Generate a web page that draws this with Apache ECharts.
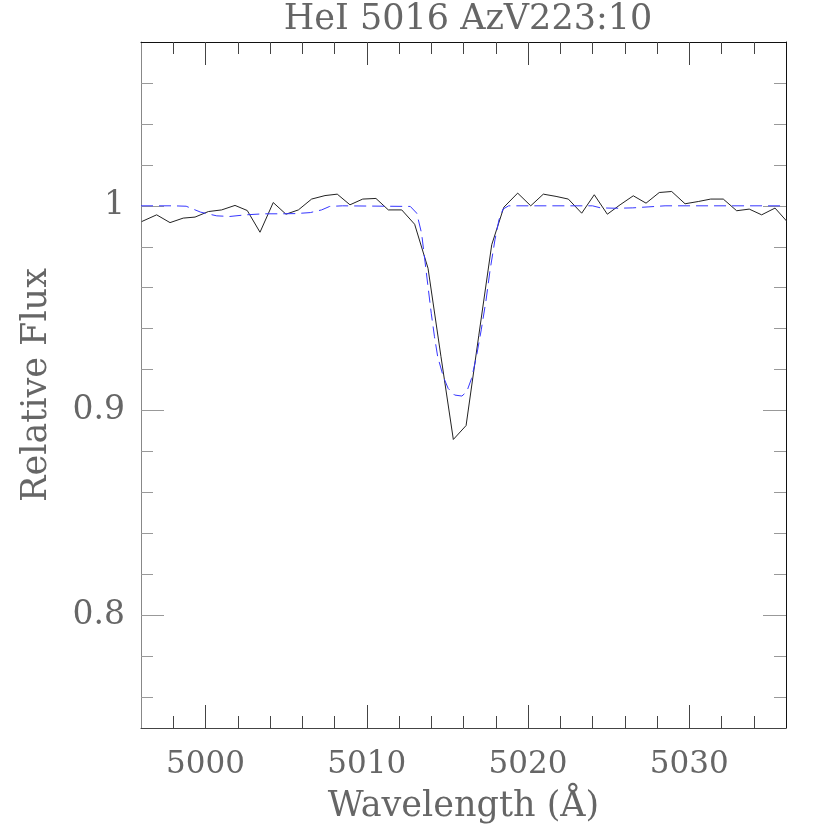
<!DOCTYPE html>
<html>
<head>
<meta charset="utf-8">
<script src="https://cdn.jsdelivr.net/npm/echarts@6/dist/echarts.min.js"></script>
<style>
  html, body { margin: 0; padding: 0; background: #fff; }
  #spectrum { width: 830px; height: 830px; }
</style>
</head>
<body>
<div id="spectrum"></div>
<script>
  // observed spectrum (wavelength in A, relative flux)
  var obsWave = [4996.04, 4996.97, 4997.80, 4998.62, 4999.35, 5000.18, 5001.00, 5001.83, 5002.59, 5003.38,
    5004.20, 5004.99, 5005.76, 5006.58, 5007.41, 5008.17, 5008.96, 5009.75, 5010.57, 5011.34,
    5012.17, 5012.97, 5013.80, 5014.60, 5015.37, 5016.16, 5016.95, 5017.75, 5018.50, 5019.36,
    5020.17, 5020.95, 5021.74, 5022.50, 5023.33, 5024.11, 5024.92, 5025.71, 5026.53, 5027.32,
    5028.14, 5028.91, 5029.74, 5030.56, 5031.33, 5032.11, 5032.94, 5033.72, 5034.49, 5035.32, 5036.10];
  var obsFlux = [0.9923, 0.9956, 0.9918, 0.9940, 0.9945, 0.9972, 0.9980, 1.0002, 0.9977, 0.9871,
    1.0016, 0.9959, 0.9980, 1.0033, 1.0050, 1.0057, 1.0005, 1.0033, 1.0036, 0.9980,
    0.9980, 0.9910, 0.9695, 0.9265, 0.8859, 0.8927, 0.9368, 0.9810, 0.9993, 1.0062,
    1.0000, 1.0057, 1.0046, 1.0033, 0.9964, 1.0054, 0.9959, 1.0005, 1.0049, 1.0013,
    1.0065, 1.0070, 1.0010, 1.0021, 1.0033, 1.0033, 0.9976, 0.9984, 0.9956, 0.9989, 0.9920];

  // model profile (blue dashed)
  var modelWave = [4996.0, 4998.0, 4998.8, 4999.7, 5000.7, 5001.5, 5002.5, 5003.6, 5004.6, 5005.6,
    5006.5, 5007.2, 5007.7, 5008.5, 5012.7, 5013.1, 5013.4, 5013.6, 5013.8, 5014.0,
    5014.2, 5014.4, 5014.75, 5015.05, 5015.45, 5015.9, 5016.2, 5016.5, 5016.8, 5017.1,
    5017.4, 5017.65, 5017.95, 5018.2, 5018.45, 5018.8, 5024.0, 5024.5, 5025.5, 5026.5,
    5027.5, 5028.5, 5036.0];
  var modelFlux = [1.0000, 1.0000, 0.9998, 0.9969, 0.9951, 0.9948, 0.9956, 0.9961, 0.9961, 0.9962,
    0.9967, 0.9980, 0.9997, 1.0000, 0.9997, 0.9964, 0.9866, 0.9736, 0.9605, 0.9475,
    0.9361, 0.9263, 0.9165, 0.9108, 0.9076, 0.9071, 0.9092, 0.9157, 0.9263, 0.9394,
    0.9540, 0.9687, 0.9834, 0.9932, 0.9984, 1.0000, 1.0000, 0.9990, 0.9988, 0.9990,
    0.9995, 1.0000, 1.0000];

  // ticks
  var xMajor = [5000, 5010, 5020, 5030];
  var xMinor = [4998, 5000, 5002, 5004, 5006, 5008, 5010, 5012, 5014, 5016, 5018,
    5020, 5022, 5024, 5026, 5028, 5030, 5032, 5034];
  var yMajor = [0.8, 0.9, 1.0];
  var yMinor = [0.76, 0.78, 0.80, 0.82, 0.84, 0.86, 0.88, 0.90, 0.92, 0.94, 0.96, 0.98,
    1.00, 1.02, 1.04, 1.06];

  var xMin = 4996, xMax = 5036;
  var yMin = 0.745, yMax = 1.08;

  var fontFam = "'DejaVu Serif', 'Liberation Serif', serif";
  var textGray = '#666';

  function pairs(a, b) {
    var out = [];
    for (var i = 0; i < a.length; i++) out.push([a[i], b[i]]);
    return out;
  }

  function xAx(pos, ticks, len, lineColor, tickColor, labels) {
    return {
      type: 'value', position: pos, min: xMin, max: xMax,
      splitLine: { show: false },
      axisLine: { show: lineColor != null, lineStyle: { color: lineColor || '#000', width: 1 } },
      axisTick: { inside: true, length: len, customValues: ticks, lineStyle: { color: tickColor, width: 1 } },
      axisLabel: labels ? {
        customValues: labels, margin: 21, color: textGray, fontFamily: fontFam, fontSize: 31,
        formatter: function (v) { return String(Math.round(v)); }
      } : { show: false }
    };
  }
  function yAx(pos, ticks, len, lineColor, tickColor, labels) {
    return {
      type: 'value', position: pos, min: yMin, max: yMax,
      splitLine: { show: false },
      axisLine: { show: lineColor != null, lineStyle: { color: lineColor || '#000', width: 1 } },
      axisTick: { inside: true, length: len, customValues: ticks, lineStyle: { color: tickColor, width: 1 } },
      axisLabel: labels ? {
        customValues: labels, margin: 16, color: textGray, fontFamily: fontFam, fontSize: 33,
        formatter: function (v) { return String(Math.round(v * 10) / 10); }
      } : { show: false }
    };
  }

  var xAxes = [
    xAx('bottom', xMinor, 12, '#444', '#444', xMajor),
    xAx('bottom', xMajor, 23, null, '#444', null),
    xAx('top', xMinor, 12, '#111', '#444', null),
    xAx('top', xMajor, 23, null, '#444', null)
  ];
  xAxes[0].name = 'Wavelength (\u00C5)';
  xAxes[0].nameLocation = 'middle';
  xAxes[0].nameGap = 61;
  xAxes[0].nameTextStyle = { color: textGray, fontFamily: fontFam, fontSize: 35 };

  var yAxes = [
    yAx('left', yMinor, 12, '#888', '#999', yMajor),
    yAx('left', yMajor, 23, null, '#999', null),
    yAx('right', yMinor, 12, '#111', '#999', null),
    yAx('right', yMajor, 23, null, '#999', null)
  ];
  yAxes[0].name = 'Relative Flux';
  yAxes[0].nameLocation = 'middle';
  yAxes[0].nameGap = 87;
  yAxes[0].nameTextStyle = { color: textGray, fontFamily: fontFam, fontSize: 35 };

  var chart = echarts.init(document.getElementById('spectrum'), null, { renderer: 'canvas' });
  chart.setOption({
    animation: false,
    backgroundColor: '#fff',
    title: {
      text: 'HeI 5016 AzV223:10',
      left: 463, top: -3, textAlign: 'center',
      textStyle: { color: textGray, fontFamily: fontFam, fontSize: 35, fontWeight: 'normal' }
    },
    grid: { left: 141, right: 44, top: 42, bottom: 102, containLabel: false },
    xAxis: xAxes,
    yAxis: yAxes,
    series: [
      {
        name: 'observed', type: 'line', xAxisIndex: 0, yAxisIndex: 0,
        data: pairs(obsWave, obsFlux), showSymbol: false, clip: true,
        lineStyle: { color: '#222', width: 1 }
      },
      {
        name: 'model', type: 'line', xAxisIndex: 0, yAxisIndex: 0,
        data: pairs(modelWave, modelFlux), showSymbol: false, clip: true, smooth: false,
        lineStyle: { color: '#3636ff', width: 1, type: [12, 6] }
      }
    ]
  });
</script>
</body>
</html>
